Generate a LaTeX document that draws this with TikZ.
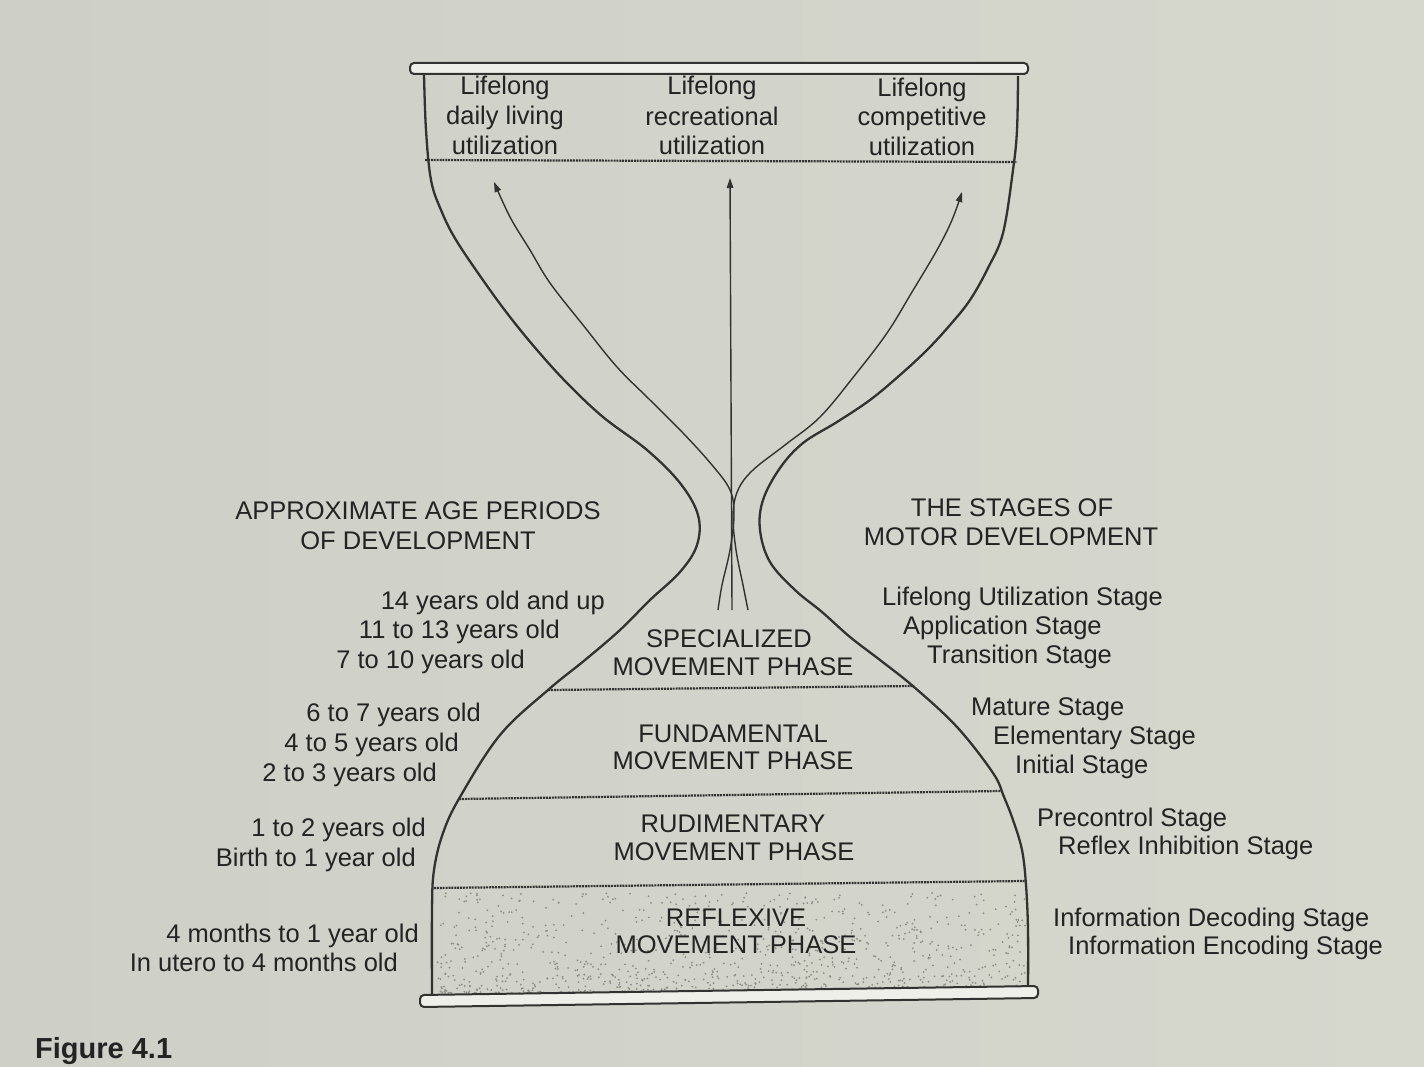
\documentclass[tikz,border=0pt]{standalone}
\usepackage{fontspec}
\setmainfont{Liberation Sans}
\usetikzlibrary{arrows.meta}
\definecolor{bg}{RGB}{217,218,208}
\definecolor{bgL}{RGB}{206,207,199}
\definecolor{bgM}{RGB}{223,224,214}
\definecolor{bgR}{RGB}{214,215,205}
\definecolor{ink}{RGB}{35,35,35}
\definecolor{lne}{RGB}{50,50,48}
\definecolor{dotc}{RGB}{140,140,134}
\begin{document}
\begin{tikzpicture}[x=1pt,y=-1pt,
  lbl/.style={inner sep=0pt, text=ink, font=\fontsize{25.5}{29}\selectfont},
  outline/.style={draw=lne, line width=2.3pt},
  sep/.style={draw=lne, line width=2.2pt, dash pattern=on 2pt off 0.9pt},
  flow/.style={draw=lne, line width=1.4pt, -{Triangle[length=10pt,width=6.5pt]}},
  bar/.style={draw=lne, line width=2pt, fill=bgM!50!white, rounded corners=4pt}]
\shade[left color=bgL, middle color=bgM, right color=bgR] (0,0) rectangle (1424,1067);
\useasboundingbox (0,0) rectangle (1424,1067);
\clip (0,0) rectangle (1424,1067);

% stipple in reflexive phase
\pgfmathsetseed{42}
\foreach \i in {1,...,1000}{
  \pgfmathsetmacro{\px}{437+rnd*588}
  \pgfmathsetmacro{\rr}{rnd}
  \pgfmathsetmacro{\py}{993-\rr*\rr*100}
  \fill[dotc] (\px,\py) circle[radius=1pt];
}

% hourglass outline
\draw[outline] plot[smooth, tension=0.6] coordinates {
  (424,74) (426,130) (431,180) (441,210) (456,240) (485,283) (510,317)
  (537,350) (567,383) (603,417) (647,450) (680,483) (698,515) (697,545)
  (680,572) (650,600) (620,630) (585,660) (548,690) (500,735) (460,797)
  (443,833) (434,870) (432,910) (432,996)};
\draw[outline] plot[smooth, tension=0.6] coordinates {
  (1018,76) (1017,130) (1013,170) (1003,233) (988,268) (970,300) (950,325)
  (927,350) (900,375) (870,400) (837,422) (803,443) (780,468) (763,500)
  (760,530) (770,562) (795,590) (822,612) (850,637) (880,660) (914,687)
  (957,727) (993,773) (1004,797) (1013,820) (1022,850) (1026,885) (1028,930)
  (1028,988)};

% bars
\draw[bar] (410,63) rectangle (1028,74);
\draw[bar] (420,995) -- (1038,986) -- (1038,998) -- (420,1007) -- cycle;

% separators
\draw[sep] (425,160) -- (1017,162);
\draw[sep] (548,690) -- (914,686);
\draw[sep] (459,799) -- (1002,791);
\draw[sep] (434,888) -- (1025,881);

% flows
\coordinate (tipL) at (494,182);
\coordinate (tipC) at (730,178);
\coordinate (tipR) at (962,192);
\draw[flow] plot[smooth, tension=0.6] coordinates {
  (718,610) (722,585) (730,550) (734,515) (730,490) (712,465) (683,433)
  (650,400) (617,367) (583,325) (550,283) (530,250) (510,217) (tipL)};
\draw[flow] (732,610) -- (tipC);
\draw[flow] plot[smooth, tension=0.6] coordinates {
  (748,610) (743,585) (736,550) (733,515) (738,490) (753,470) (785,445)
  (820,417) (855,375) (887,333) (912,292) (937,250) (952,220) (tipR)};

% top labels
\node[lbl, anchor=base] (ta1) at (505,95) {Lifelong};
\node[lbl, anchor=base] (ta2) at (505,125) {daily living};
\node[lbl, anchor=base] (ta3) at (505,155) {utilization};
\node[lbl, anchor=base] (tb1) at (712,95) {Lifelong};
\node[lbl, anchor=base] (tb2) at (712,126) {recreational};
\node[lbl, anchor=base] (tb3) at (712,155) {utilization};
\node[lbl, anchor=base] (tc1) at (922,97) {Lifelong};
\node[lbl, anchor=base] (tc2) at (922,126) {competitive};
\node[lbl, anchor=base] (tc3) at (922,156) {utilization};

% phase labels
\node[lbl, anchor=base] (p1a) at (729,647) {SPECIALIZED};
\node[lbl, anchor=base] (p1b) at (733,675) {MOVEMENT PHASE};
\node[lbl, anchor=base] (p2a) at (733,742) {FUNDAMENTAL};
\node[lbl, anchor=base] (p2b) at (733,769) {MOVEMENT PHASE};
\node[lbl, anchor=base] (p3a) at (733,832) {RUDIMENTARY};
\node[lbl, anchor=base] (p3b) at (734,860) {MOVEMENT PHASE};
\node[lbl, anchor=base] (p4a) at (736,926) {REFLEXIVE};
\node[lbl, anchor=base] (p4b) at (736,953) {MOVEMENT PHASE};

% headers
\node[lbl, anchor=base] (hl1) at (418,519) {APPROXIMATE AGE PERIODS};
\node[lbl, anchor=base] (hl2) at (418,549) {OF DEVELOPMENT};
\node[lbl, anchor=base] (hr1) at (1012,516) {THE STAGES OF};
\node[lbl, anchor=base] (hr2) at (1011,545) {MOTOR DEVELOPMENT};

% ages
\node[lbl, anchor=base east] (a1) at (605,609) {14 years old and up};
\node[lbl, anchor=base east] (a2) at (560,638) {11 to 13 years old};
\node[lbl, anchor=base east] (a3) at (525,668) {7 to 10 years old};
\node[lbl, anchor=base east] (a4) at (481,721) {6 to 7 years old};
\node[lbl, anchor=base east] (a5) at (459,751) {4 to 5 years old};
\node[lbl, anchor=base east] (a6) at (437,781) {2 to 3 years old};
\node[lbl, anchor=base east] (a7) at (426,836) {1 to 2 years old};
\node[lbl, anchor=base east] (a8) at (416,866) {Birth to 1 year old};
\node[lbl, anchor=base east] (a9) at (419,942) {4 months to 1 year old};
\node[lbl, anchor=base east] (a10) at (398,971) {In utero to 4 months old};

% stages
\node[lbl, anchor=base west] (s1) at (882,605) {Lifelong Utilization Stage};
\node[lbl, anchor=base west] (s2) at (903,634) {Application Stage};
\node[lbl, anchor=base west] (s3) at (927,663) {Transition Stage};
\node[lbl, anchor=base west] (s4) at (971,715) {Mature Stage};
\node[lbl, anchor=base west] (s5) at (993,744) {Elementary Stage};
\node[lbl, anchor=base west] (s6) at (1015,773) {Initial Stage};
\node[lbl, anchor=base west] (s7) at (1037,826) {Precontrol Stage};
\node[lbl, anchor=base west] (s8) at (1058,854) {Reflex Inhibition Stage};
\node[lbl, anchor=base west] (s9) at (1053,926) {Information Decoding Stage};
\node[lbl, anchor=base west] (s10) at (1068,954) {Information Encoding Stage};

% caption
\node[inner sep=0pt, anchor=base west, text=ink, font=\fontsize{29}{33}\selectfont\bfseries] (fig) at (35,1058) {Figure 4.1};
\end{tikzpicture}
\end{document}
